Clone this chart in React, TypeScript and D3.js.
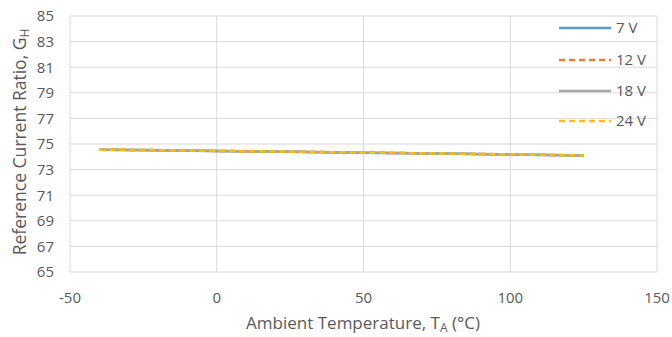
import React from "react";
import * as d3 from "d3";

const temps = [-40, -25, 0, 25, 50, 75, 100, 125];
const v7 = [74.55, 74.53, 74.45, 74.4, 74.32, 74.25, 74.18, 74.1];
const v12 = [74.56, 74.53, 74.46, 74.4, 74.33, 74.26, 74.19, 74.11];
const v18 = [74.55, 74.52, 74.45, 74.39, 74.32, 74.25, 74.18, 74.1];
const v24 = [74.56, 74.53, 74.46, 74.4, 74.33, 74.26, 74.19, 74.11];
const seriesNames = ["7 V", "12 V", "18 V", "24 V"];
const xTicks = [-50, 0, 50, 100, 150];
const yTicks = [65, 67, 69, 71, 73, 75, 77, 79, 81, 83, 85];

const colors = ["#5B9BD5", "#ED7D31", "#A5A5A5", "#FFC000"];
const dashes = [null, "6,4", null, "6,4"];

export default function App() {
  const W = 672, H = 337;
  const left = 70, right = 657, top = 16, bottom = 272;
  const x = d3.scaleLinear().domain([-50, 150]).range([left, right]);
  const y = d3.scaleLinear().domain([65, 85]).range([bottom, top]);
  const all = [v7, v12, v18, v24];
  const line = d3.line<number>().x((_, i) => x(temps[i])).y((d) => y(d));
  const font = "'Open Sans', 'Liberation Sans', sans-serif";
  const txt = "#595959";
  const legendY = [28, 60, 91, 121];
  return (
    <svg width={W} height={H} style={{ position: "absolute", left: 0, top: 0 }} fontFamily={font}>
      <rect width={W} height={H} fill="#fff" />
      {yTicks.map((t) => (
        <line key={"gy" + t} x1={left} x2={right} y1={y(t)} y2={y(t)} stroke="#d9d9d9" strokeWidth={1} />
      ))}
      {xTicks.map((t) => (
        <line key={"gx" + t} x1={x(t)} x2={x(t)} y1={top} y2={bottom} stroke="#d9d9d9" strokeWidth={1} />
      ))}
      {yTicks.map((t) => (
        <text key={"ty" + t} x={54} y={y(t)} dy="0.36em" textAnchor="end" fontSize={15} fill={txt}>
          {t}
        </text>
      ))}
      {xTicks.map((t) => (
        <text key={"tx" + t} x={x(t)} y={302.5} textAnchor="middle" fontSize={15} fill={txt}>
          {t}
        </text>
      ))}
      {all.map((s, i) => (
        <path key={"s" + i} d={line(s) || ""} fill="none" stroke={colors[i]} strokeWidth={2.5}
          strokeDasharray={dashes[i] || undefined} />
      ))}
      {seriesNames.map((n, i) => (
        <g key={"l" + i}>
          <line x1={559} x2={611} y1={legendY[i]} y2={legendY[i]} stroke={colors[i]} strokeWidth={2.5}
            strokeDasharray={dashes[i] || undefined} />
          <text x={616} y={legendY[i]} dy="0.36em" fontSize={15} fill={txt}>{n}</text>
        </g>
      ))}
      <text x={363} y={329} textAnchor="middle" fontSize={17} fill={txt}>
        Ambient Temperature, T<tspan fontSize={12} dy={3}>A</tspan><tspan dy={-3}> (°C)</tspan>
      </text>
      <text transform={`translate(26,142) rotate(-90)`} textAnchor="middle" fontSize={17.5} fill={txt}>
        Reference Current Ratio, G<tspan fontSize={12} dy={3}>H</tspan>
      </text>
    </svg>
  );
}
